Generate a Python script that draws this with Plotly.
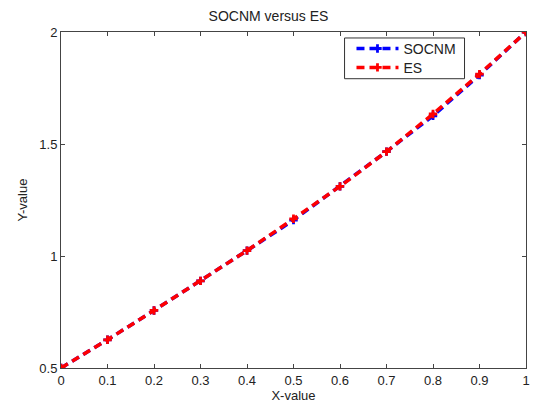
import plotly.graph_objects as go

x_values = [0.0, 0.1, 0.2, 0.3, 0.4, 0.5, 0.6, 0.7, 0.8, 0.9, 1.0]
socnm_values = [0.5, 0.626, 0.757, 0.889, 1.024, 1.160, 1.311, 1.466, 1.626, 1.808, 2.0]
es_values = [0.5, 0.626, 0.757, 0.889, 1.024, 1.166, 1.311, 1.466, 1.634, 1.812, 2.0]
x_ticks = [0, 0.1, 0.2, 0.3, 0.4, 0.5, 0.6, 0.7, 0.8, 0.9, 1]
y_ticks = [0.5, 1, 1.5, 2]

font_family = "Liberation Sans, Arial, sans-serif"
text_color = "#222222"

fig = go.Figure()
fig.add_trace(go.Scatter(
    x=x_values, y=socnm_values, name="SOCNM", mode="lines+markers",
    line=dict(color="#0000ff", width=3.5, dash="8px,5px"),
    marker=dict(symbol="cross", size=7, color="#0000ff"),
    legend="legend",
))
fig.add_trace(go.Scatter(
    x=x_values, y=es_values, name="ES", mode="lines+markers",
    line=dict(color="#ff0000", width=3.5, dash="8px,5px"),
    marker=dict(symbol="cross", size=7, color="#ff0000"),
    legend="legend2",
))

axis_common = dict(
    showgrid=False, zeroline=False, showline=True, mirror="ticks",
    linecolor="#444444", linewidth=1, ticks="inside", ticklen=4,
    tickcolor="#444444", tickfont=dict(size=13, color=text_color, family=font_family),
)

# legend frame drawn as a paper-space rectangle
fig.add_shape(type="rect", xref="paper", yref="paper",
              x0=0.6098, x1=0.8678, y0=0.861, y1=0.9822,
              line=dict(color="#333333", width=1), fillcolor="white", layer="above")

legend_common = dict(
    x=0.6247, xanchor="left", yanchor="middle",
    bgcolor="rgba(0,0,0,0)", borderwidth=0,
    font=dict(size=14, color=text_color, family=font_family),
    itemwidth=42,
)

fig.update_layout(
    width=537, height=406,
    margin=dict(l=61, r=7, t=32, b=36),
    paper_bgcolor="white", plot_bgcolor="white",
    title=dict(text="SOCNM versus ES", x=0.5, xanchor="center", y=0.9606, yanchor="middle",
               font=dict(size=14, color=text_color, family=font_family)),
    xaxis=dict(range=[0, 1], tickvals=x_ticks, ticktext=[f"{v:g}" for v in x_ticks],
               title=dict(text="X-value", standoff=2,
                          font=dict(size=13, color=text_color, family=font_family)),
               **axis_common),
    yaxis=dict(range=[0.5, 2], tickvals=y_ticks, ticktext=[f"{v:g}" for v in y_ticks],
               title=dict(text="Y-value", standoff=8,
                          font=dict(size=13, color=text_color, family=font_family)),
               **axis_common),
    legend=dict(y=0.9497, **legend_common),
    legend2=dict(y=0.8935, **legend_common),
    showlegend=True,
)

fig.write_html("out.html")
